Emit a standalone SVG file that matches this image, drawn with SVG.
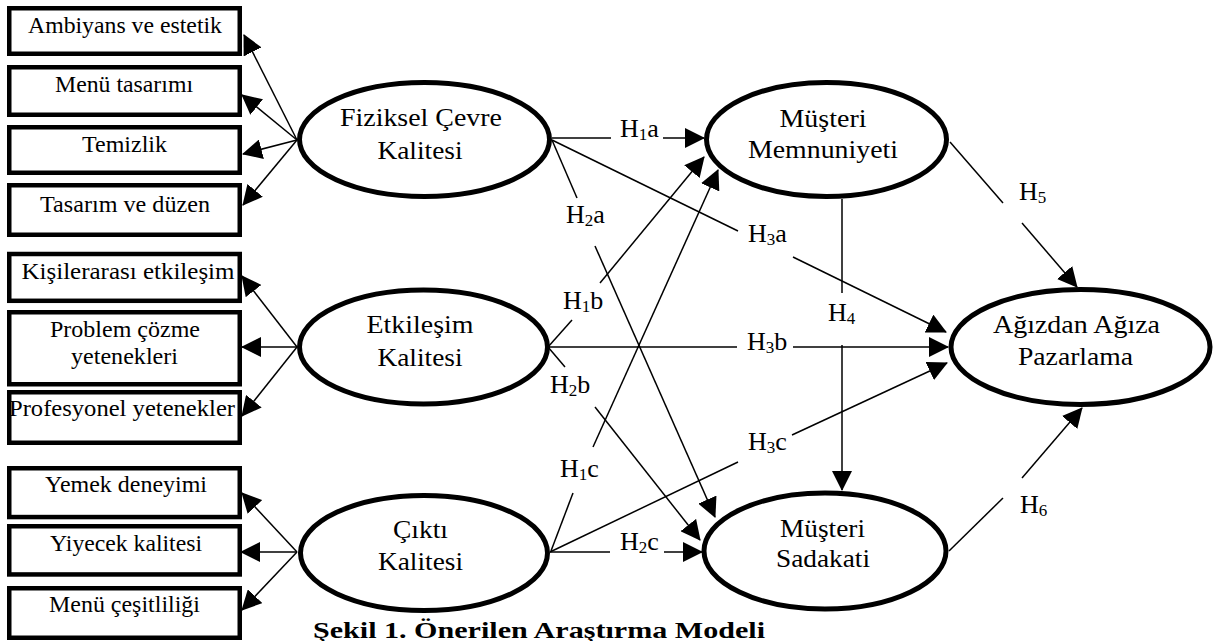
<svg xmlns="http://www.w3.org/2000/svg" width="1221" height="641" viewBox="0 0 1221 641">
  <style>
    .box { fill: #fff; stroke: #000; stroke-width: 4.5; }
    .lat { fill: #fff; stroke: #000; stroke-width: 5; }
    .bt { font-family: "Liberation Serif", "Times New Roman", serif; font-size: 23px; fill: #000; text-anchor: middle; }
    .et { font-family: "Liberation Serif", "Times New Roman", serif; font-size: 26px; fill: #000; text-anchor: middle; }
    .hl { font-family: "Liberation Serif", "Times New Roman", serif; font-size: 26px; fill: #000; }
    .sub { font-size: 17px; }
    .ln { stroke: #000; stroke-width: 1.5; fill: none; }
    .cap { font-family: "Liberation Serif", "Times New Roman", serif; font-size: 24px; font-weight: bold; fill: #000; }
  </style>
  <defs>
    <marker id="ah" viewBox="0 0 20 20" refX="19" refY="10" markerWidth="20" markerHeight="20" markerUnits="userSpaceOnUse" orient="auto">
      <path d="M0,0 L20,10 L0,20 z" fill="#000"/>
    </marker>
  </defs>
  <rect width="1221" height="641" fill="#fff"/>

  <!-- indicator boxes -->
  <g id="ambiyans"><rect class="box" x="9.25" y="8.25" width="230.5" height="45.5"/><text class="bt" x="125" y="32.5" textLength="194" lengthAdjust="spacingAndGlyphs">Ambiyans ve estetik</text></g>
  <g id="menu-tasarimi"><rect class="box" x="9.25" y="67.25" width="230.5" height="47.5"/><text class="bt" x="124" y="91.5" textLength="138" lengthAdjust="spacingAndGlyphs">Menü tasarımı</text></g>
  <g id="temizlik"><rect class="box" x="9.25" y="127.25" width="230.5" height="45.5"/><text class="bt" x="124.5" y="151.5" textLength="85" lengthAdjust="spacingAndGlyphs">Temizlik</text></g>
  <g id="tasarim-duzen"><rect class="box" x="9.25" y="185.25" width="230.5" height="49.5"/><text class="bt" x="125" y="211.5" textLength="170" lengthAdjust="spacingAndGlyphs">Tasarım ve düzen</text></g>

  <g id="kisilerarasi"><rect class="box" x="9.25" y="254" width="230.5" height="46.8"/><text class="bt" x="128" y="279" textLength="213" lengthAdjust="spacingAndGlyphs">Kişilerarası etkileşim</text></g>
  <g id="problem-cozme"><rect class="box" x="9.25" y="312.25" width="230.5" height="72"/><text class="bt" x="125" y="337" textLength="150" lengthAdjust="spacingAndGlyphs">Problem çözme</text><text class="bt" x="124.5" y="364" textLength="107" lengthAdjust="spacingAndGlyphs">yetenekleri</text></g>
  <g id="profesyonel"><rect class="box" x="9.25" y="392.25" width="230.5" height="50.5"/><text class="bt" x="122" y="416" textLength="226" lengthAdjust="spacingAndGlyphs">Profesyonel yetenekler</text></g>

  <g id="yemek-deneyimi"><rect class="box" x="9.25" y="468.25" width="230.5" height="48.8"/><text class="bt" x="126" y="491.5" textLength="162" lengthAdjust="spacingAndGlyphs">Yemek deneyimi</text></g>
  <g id="yiyecek-kalitesi"><rect class="box" x="9.25" y="526.25" width="230.5" height="48.2"/><text class="bt" x="126" y="550.5" textLength="152" lengthAdjust="spacingAndGlyphs">Yiyecek kalitesi</text></g>
  <g id="menu-cesitliligi"><rect class="box" x="9.25" y="588.25" width="230.5" height="49.5"/><text class="bt" x="124.5" y="611.5" textLength="151" lengthAdjust="spacingAndGlyphs">Menü çeşitliliği</text></g>

  <!-- latent constructs -->
  <g id="fiziksel"><ellipse class="lat" cx="424.5" cy="139.5" rx="125" ry="57"/><text class="et" x="421" y="126" textLength="162" lengthAdjust="spacingAndGlyphs">Fiziksel Çevre</text><text class="et" x="420" y="159" textLength="85" lengthAdjust="spacingAndGlyphs">Kalitesi</text></g>
  <g id="etkilesim"><ellipse class="lat" cx="423.5" cy="347" rx="124" ry="57"/><text class="et" x="420" y="333" textLength="107" lengthAdjust="spacingAndGlyphs">Etkileşim</text><text class="et" x="420" y="366" textLength="85" lengthAdjust="spacingAndGlyphs">Kalitesi</text></g>
  <g id="cikti"><ellipse class="lat" cx="424" cy="553" rx="123.5" ry="57.5"/><text class="et" x="420.5" y="538" textLength="55" lengthAdjust="spacingAndGlyphs">Çıktı</text><text class="et" x="420.5" y="570" textLength="85" lengthAdjust="spacingAndGlyphs">Kalitesi</text></g>
  <g id="memnuniyet"><ellipse class="lat" cx="826.5" cy="139.5" rx="120" ry="57"/><text class="et" x="823" y="126.7" textLength="87" lengthAdjust="spacingAndGlyphs">Müşteri</text><text class="et" x="823" y="158.3" textLength="150" lengthAdjust="spacingAndGlyphs">Memnuniyeti</text></g>
  <g id="sadakat"><ellipse class="lat" cx="825" cy="551" rx="121" ry="58"/><text class="et" x="822.5" y="536.7" textLength="85" lengthAdjust="spacingAndGlyphs">Müşteri</text><text class="et" x="823" y="567" textLength="94" lengthAdjust="spacingAndGlyphs">Sadakati</text></g>
  <g id="agizdan"><ellipse class="lat" cx="1080.5" cy="347" rx="129.5" ry="57.5"/><text class="et" x="1076.5" y="333" textLength="167" lengthAdjust="spacingAndGlyphs">Ağızdan Ağıza</text><text class="et" x="1075.5" y="365" textLength="115" lengthAdjust="spacingAndGlyphs">Pazarlama</text></g>

  <!-- connectors -->
  <g id="connectors" class="ln" marker-end="url(#ah)">
    <!-- measurement arrows -->
    <line x1="297" y1="140" x2="244" y2="35"/>
    <line x1="297" y1="140" x2="242" y2="95"/>
    <line x1="297" y1="140" x2="243" y2="154"/>
    <line x1="297" y1="140" x2="243" y2="205"/>
    <line x1="297" y1="347" x2="242" y2="276"/>
    <line x1="297" y1="347" x2="242" y2="347"/>
    <line x1="297" y1="347" x2="242" y2="416"/>
    <line x1="297" y1="552" x2="242" y2="493"/>
    <line x1="297" y1="552" x2="241" y2="552"/>
    <line x1="297" y1="552" x2="242" y2="610"/>
    <!-- structural paths, broken around their labels -->
    <line x1="552" y1="138" x2="611" y2="138" marker-end="none"/>
    <line x1="663" y1="138" x2="704" y2="138"/>
    <line x1="552" y1="140" x2="577" y2="198" marker-end="none"/>
    <line x1="595" y1="246" x2="715" y2="517"/>
    <line x1="552" y1="140" x2="738" y2="231" marker-end="none"/>
    <line x1="793" y1="257" x2="946" y2="332"/>
    <line x1="548" y1="347" x2="572" y2="320" marker-end="none"/>
    <line x1="600" y1="283" x2="704" y2="157"/>
    <line x1="548" y1="347" x2="565" y2="367" marker-end="none"/>
    <line x1="595" y1="407" x2="700" y2="540"/>
    <line x1="548" y1="347" x2="737" y2="347" marker-end="none"/>
    <line x1="793" y1="347" x2="948" y2="347"/>
    <line x1="551" y1="551" x2="573" y2="493" marker-end="none"/>
    <line x1="593" y1="447" x2="718" y2="170"/>
    <line x1="550" y1="552" x2="610" y2="552" marker-end="none"/>
    <line x1="664" y1="552" x2="702" y2="552"/>
    <line x1="550" y1="552" x2="738" y2="462" marker-end="none"/>
    <line x1="792" y1="435" x2="947" y2="363"/>
    <line x1="842" y1="199" x2="842" y2="293" marker-end="none"/>
    <line x1="842" y1="345" x2="842" y2="490"/>
    <line x1="950" y1="142" x2="1003" y2="203" marker-end="none"/>
    <line x1="1022" y1="223" x2="1077" y2="287"/>
    <line x1="949" y1="551" x2="1003" y2="498" marker-end="none"/>
    <line x1="1022" y1="478" x2="1082" y2="408"/>
  </g>

  <!-- path labels -->
  <g id="labels">
    <text class="hl" x="620" y="137">H<tspan class="sub" dy="3">1</tspan><tspan dy="-3">a</tspan></text>
    <text class="hl" x="566" y="223">H<tspan class="sub" dy="3">2</tspan><tspan dy="-3">a</tspan></text>
    <text class="hl" x="748" y="242">H<tspan class="sub" dy="3">3</tspan><tspan dy="-3">a</tspan></text>
    <text class="hl" x="563" y="309">H<tspan class="sub" dy="3">1</tspan><tspan dy="-3">b</tspan></text>
    <text class="hl" x="828" y="321">H<tspan class="sub" dy="3">4</tspan></text>
    <text class="hl" x="747" y="350">H<tspan class="sub" dy="3">3</tspan><tspan dy="-3">b</tspan></text>
    <text class="hl" x="550" y="393">H<tspan class="sub" dy="3">2</tspan><tspan dy="-3">b</tspan></text>
    <text class="hl" x="748" y="450">H<tspan class="sub" dy="3">3</tspan><tspan dy="-3">c</tspan></text>
    <text class="hl" x="560" y="477">H<tspan class="sub" dy="3">1</tspan><tspan dy="-3">c</tspan></text>
    <text class="hl" x="620" y="550">H<tspan class="sub" dy="3">2</tspan><tspan dy="-3">c</tspan></text>
    <text class="hl" x="1019" y="200">H<tspan class="sub" dy="3">5</tspan></text>
    <text class="hl" x="1020" y="513">H<tspan class="sub" dy="3">6</tspan></text>
  </g>

  <text class="cap" x="313" y="638" textLength="452" lengthAdjust="spacingAndGlyphs">Şekil 1. Önerilen Araştırma Modeli</text>
</svg>
